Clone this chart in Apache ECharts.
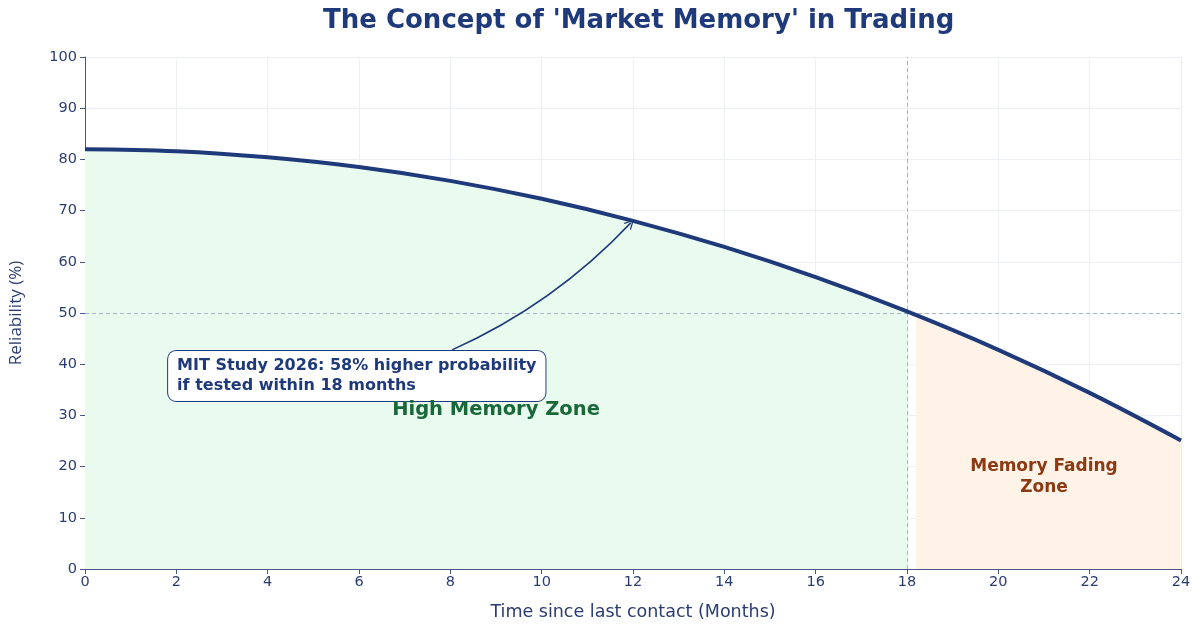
<!DOCTYPE html>
<html>
<head>
<meta charset="utf-8">
<script src="https://cdn.jsdelivr.net/npm/echarts@6/dist/echarts.min.js"></script>
<style>
  html, body { margin: 0; padding: 0; background: #fff; }
  #myChart { width: 1200px; height: 630px; }
</style>
</head>
<body>
<div id="myChart"></div>
<script>
// months since last contact
var months = [0, 2, 4, 6, 8, 10, 12, 14, 16, 18, 20, 22, 24]
// reliability (%)
var reliability = [82, 81.6, 80.4, 78.5, 75.8, 72.3, 68, 62.9, 57, 50.3, 42.8, 34.4, 25.1]
// fading zone starts just after the 18 month line
var fadeMonths = [18.2, 20, 22, 24]
var fadeValues = [49.6, 42.8, 34.4, 25.1]
var xTicks = [0, 24, 2]
var yTicks = [0, 100, 10]
// annotation arrow: from the box to the curve at 12 months
var arrowFrom = [8.04, 42.8]
var arrowTo = [11.95, 67.6]

var navy = '#1f3a7a'
var textColor = '#2b3d70'
var axisColor = '#4a5786'
var font = '"DejaVu Sans", sans-serif'
var fontV = '"Open Sans", sans-serif' // rotated axis name

var lineData = months.map(function (m, i) { return [m, reliability[i]] })
var greenData = lineData.filter(function (d) { return d[0] <= 18 })
var fadeData = fadeMonths.map(function (m, i) { return [m, fadeValues[i]] })

var chart = echarts.init(document.getElementById('myChart'))
chart.setOption({
  animation: false,
  title: {
    text: "The Concept of 'Market Memory' in Trading",
    left: 318,
    top: 3,
    textStyle: { fontFamily: font, fontSize: 26, fontWeight: 'bold', color: navy }
  },
  grid: { left: 85, right: 19, top: 57, bottom: 61 },
  xAxis: {
    type: 'value',
    min: xTicks[0], max: xTicks[1], interval: xTicks[2],
    name: 'Time since last contact (Months)',
    nameLocation: 'middle',
    nameGap: 34,
    nameTextStyle: { fontFamily: font, fontSize: 17.5, color: textColor },
    axisLine: { show: true, lineStyle: { color: axisColor, width: 1 } },
    axisTick: { show: true, length: 5, lineStyle: { color: axisColor } },
    axisLabel: { fontFamily: font, fontSize: 14.5, color: textColor, margin: 6 },
    splitLine: { show: true, lineStyle: { color: '#eceff4', width: 1 } }
  },
  yAxis: {
    type: 'value',
    min: yTicks[0], max: yTicks[1], interval: yTicks[2],
    name: 'Reliability (%)',
    nameLocation: 'middle',
    nameGap: 60,
    nameTextStyle: { fontFamily: fontV, fontSize: 17, color: textColor },
    axisLine: { show: true, lineStyle: { color: axisColor, width: 1 } },
    axisTick: { show: true, length: 5, lineStyle: { color: axisColor } },
    axisLabel: { fontFamily: font, fontSize: 14.5, color: textColor, margin: 8 },
    splitLine: { show: true, lineStyle: { color: '#eceff4', width: 1 } }
  },
  series: [
    {
      // high memory zone fill
      type: 'line',
      data: greenData,
      smooth: 0.4,
      symbol: 'none',
      lineStyle: { width: 0 },
      areaStyle: { color: '#e8fbee', opacity: 1 },
      silent: true,
      z: 1
    },
    {
      // memory fading zone fill
      type: 'line',
      data: fadeData,
      smooth: 0.4,
      symbol: 'none',
      lineStyle: { width: 0 },
      areaStyle: { color: '#fef3e6', opacity: 1 },
      silent: true,
      z: 1,
      markPoint: {
        symbol: 'rect',
        symbolSize: 1,
        itemStyle: { color: 'transparent' },
        label: {
          show: true,
          position: 'inside',
          fontFamily: font,
          fontSize: 17,
          fontWeight: 'bold',
          color: '#8b3a14',
          lineHeight: 21,
          align: 'center',
          formatter: 'Memory Fading\nZone'
        },
        data: [{ coord: [21, 18] }]
      }
    },
    {
      // curved annotation arrow
      type: 'lines',
      coordinateSystem: 'cartesian2d',
      silent: true,
      z: 6,
      symbol: ['none', 'path://M0,10 L5,0 L10,10 L8.6,10 L5,2.8 L1.4,10 Z'],
      symbolSize: 10,
      lineStyle: { color: navy, width: 1.5, curveness: -0.1, opacity: 1 },
      data: [{ coords: [arrowFrom, arrowTo] }]
    },
    {
      // reliability curve
      type: 'line',
      data: lineData,
      smooth: 0.4,
      symbol: 'none',
      lineStyle: { width: 4, color: navy },
      z: 5,
      markLine: {
        silent: true,
        symbol: ['none', 'none'],
        label: { show: false },
        lineStyle: { type: [4, 3], color: '#a8b2cc', width: 1 },
        data: [{ xAxis: 18 }, { yAxis: 50 }]
      },
      markPoint: {
        symbol: 'rect',
        symbolSize: 1,
        itemStyle: { color: 'transparent' },
        z: 7,
        data: [
          {
            coord: [1.82, 37.7],
            label: {
              show: true,
              position: 'inside',
              fontFamily: font,
              fontSize: 16,
              fontWeight: 'bold',
              color: navy,
              lineHeight: 20,
              align: 'left',
              backgroundColor: '#fff',
              borderColor: navy,
              borderWidth: 1,
              borderRadius: 8,
              padding: [5, 9, 5, 9],
              formatter: 'MIT Study 2026: 58% higher probability\nif tested within 18 months'
            }
          },
          {
            coord: [9, 31.1],
            label: {
              show: true,
              position: 'inside',
              fontFamily: font,
              fontSize: 19.5,
              fontWeight: 'bold',
              color: '#19683a',
              formatter: 'High Memory Zone'
            }
          }
        ]
      }
    }
  ]
})
</script>
</body>
</html>
